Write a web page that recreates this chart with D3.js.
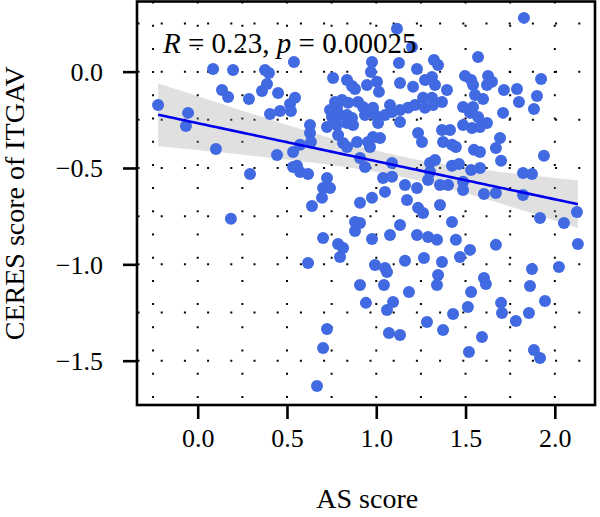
<!DOCTYPE html>
<html>
<head>
<meta charset="utf-8">
<script src="https://cdn.jsdelivr.net/npm/d3@7"></script>
<style>
body { margin: 0; background: #fff; }
svg { display: block; font-family: "Liberation Serif", "DejaVu Serif", serif; }
</style>
</head>
<body>
<svg id="chart" width="600" height="517"></svg>
<script>

// values
var asScore = [0.086,0.198,0.377,0.399,0.388,0.360,0.136,0.170,0.287,0.450,-0.222,-0.054,-0.066,0.405,0.461,0.539,0.102,0.444,0.293,0.186,
  1.116,1.200,0.976,0.970,1.127,1.228,1.323,1.346,0.758,0.836,0.864,0.881,0.948,1.004,1.015,1.133,1.206,1.273,1.312,1.329,1.396,
  0.545,0.517,0.522,0.769,0.808,0.842,0.741,0.780,0.898,0.926,0.982,0.937,0.993,1.077,1.088,1.049,1.133,1.178,1.217,1.262,1.312,1.368,1.318,1.273,
  0.752,0.797,0.836,0.864,0.724,0.780,0.836,0.870,0.629,0.629,0.634,0.786,0.814,0.836,0.892,0.954,0.982,1.021,0.965,1.010,1.133,1.234,1.256,1.368,1.413,1.374,1.424,0.534,0.573,
  0.909,0.937,1.088,1.301,1.329,1.301,1.290,1.357,0.534,0.556,0.573,0.618,0.724,0.702,0.741,0.696,0.640,1.038,1.088,0.976,0.909,1.049,1.161,1.228,1.172,1.234,1.262,1.357,
  1.133,0.881,0.909,0.881,1.077,0.976,0.702,0.786,0.814,0.797,1.228,1.290,1.340,0.618,0.993,1.049,1.161,1.267,1.368,
  1.060,0.909,1.043,1.183,1.346,1.340,0.942,1.094,1.060,0.724,0.702,1.071,1.133,1.284,1.374,0.668,
  1.827,1.570,1.497,1.531,1.542,1.626,1.648,1.620,1.923,1.715,1.788,1.900,1.553,1.598,1.799,1.486,1.542,1.525,1.570,1.620,1.581,1.710,1.883,1.486,1.536,1.693,
  1.446,1.547,1.581,1.670,1.939,1.699,1.424,1.463,1.531,1.581,1.822,1.872,1.402,1.486,1.486,1.603,1.670,1.822,1.917,2.124,2.051,1.424,1.446,1.525,1.670,2.129,1.469,1.872,2.023,
  1.603,1.614,1.531,1.861,1.945,1.699,1.704,1.782,1.855,1.513,1.430,1.592,1.519,1.883,1.917];

var ceresScore = [0.014,0.009,0.009,-0.007,-0.064,-0.100,-0.095,-0.131,-0.142,-0.111,-0.173,-0.214,-0.282,-0.220,-0.204,0.050,-0.401,-0.432,-0.531,-0.764,
  0.222,0.128,0.050,-0.002,0.045,0.014,0.061,0.035,-0.033,-0.043,-0.074,-0.090,-0.069,-0.053,-0.105,-0.059,-0.079,-0.043,-0.028,-0.069,-0.095,
  -0.136,-0.168,-0.204,-0.157,-0.147,-0.162,-0.199,-0.188,-0.157,-0.183,-0.188,-0.225,-0.225,-0.173,-0.209,-0.225,-0.199,-0.188,-0.173,-0.136,-0.136,-0.157,-0.173,-0.188,
  -0.235,-0.225,-0.225,-0.240,-0.287,-0.277,-0.266,-0.277,-0.277,-0.318,-0.365,-0.329,-0.370,-0.391,-0.365,-0.365,-0.339,-0.344,-0.391,-0.266,-0.261,-0.318,-0.365,-0.303,-0.303,-0.365,-0.380,-0.417,-0.380,
  -0.448,-0.495,-0.474,-0.474,-0.458,-0.521,-0.562,-0.588,-0.495,-0.489,-0.521,-0.531,-0.552,-0.604,-0.604,-0.655,-0.697,-0.552,-0.546,-0.655,-0.681,-0.624,-0.588,-0.604,-0.666,-0.707,-0.733,-0.692,
  -0.796,-0.780,-0.785,-0.827,-0.848,-0.868,-0.863,-0.894,-0.915,-0.962,-0.848,-0.858,-0.873,-0.993,-1.003,-1.019,-0.982,-0.967,-0.988,
  -1.040,-1.107,-1.107,-1.143,-1.055,-1.107,-1.200,-1.195,-1.237,-1.335,-1.434,-1.356,-1.367,-1.299,-1.341,-1.631,
  0.279,0.076,-0.022,-0.043,-0.069,-0.022,-0.053,-0.069,-0.038,-0.095,-0.090,-0.126,-0.121,-0.142,-0.157,-0.183,-0.183,-0.214,-0.235,-0.266,-0.287,-0.214,-0.194,-0.277,-0.292,-0.344,
  -0.391,-0.406,-0.417,-0.396,-0.437,-0.463,-0.489,-0.479,-0.510,-0.500,-0.526,-0.531,-0.588,-0.572,-0.614,-0.635,-0.630,-0.640,-0.759,-0.728,-0.785,-0.780,-0.873,-0.925,-0.899,-0.894,-0.962,-1.024,-1.014,
  -1.071,-1.102,-1.143,-1.112,-1.190,-1.200,-1.252,-1.294,-1.252,-1.221,-1.258,-1.377,-1.455,-1.444,-1.486];

var xTicks = [0, 0.5, 1, 1.5, 2];
var yTicks = [0, -0.5, -1, -1.5];
var xGrid = [-0.25, 0, 0.25, 0.5, 0.75, 1, 1.25, 1.5, 1.75, 2];
var yGrid = [-1.5, -1.25, -1, -0.75, -0.5, -0.25, 0, 0.25];
var rText = "0.23";
var pText = "0.00025";

var svg = d3.select("#chart");
var margin = {top: 1.5, right: 5, bottom: 112, left: 137};
var W = 600 - margin.left - margin.right;
var H = 517 - margin.top - margin.bottom;

var x = d3.scaleLinear().domain([-0.34, 2.225]).range([0, W]);
var y = d3.scaleLinear().domain([-1.73, 0.364]).range([H, 0]);

var g = svg.append("g").attr("transform", "translate(" + margin.left + "," + margin.top + ")");

// dotted grid
g.selectAll(".vgrid").data(xGrid).enter().append("line")
  .attr("x1", d => x(d)).attr("x2", d => x(d))
  .attr("y1", 0).attr("y2", H)
  .attr("stroke", "#000").attr("stroke-width", 2)
  .attr("stroke-dasharray", "2,21.2");
g.selectAll(".hgrid").data(yGrid).enter().append("line")
  .attr("y1", d => y(d)).attr("y2", d => y(d))
  .attr("x1", 0.5).attr("x2", W)
  .attr("stroke", "#000").attr("stroke-width", 2)
  .attr("stroke-dasharray", "2,21.2");

// linear fit + 95% band
var pts = asScore.map((v, i) => [v, ceresScore[i]]);
var n = pts.length;
var mx = d3.mean(pts, d => d[0]), my = d3.mean(pts, d => d[1]);
var sxx = d3.sum(pts, d => (d[0] - mx) * (d[0] - mx));
var sxy = d3.sum(pts, d => (d[0] - mx) * (d[1] - my));
var b = sxy / sxx, a = my - b * mx;
var sse = d3.sum(pts, d => Math.pow(d[1] - (a + b * d[0]), 2));
var s = Math.sqrt(sse / (n - 2));
var xmin = d3.min(asScore), xmax = d3.max(asScore);
var fit = d3.range(0, 81).map(function(k) {
  var xv = xmin + (xmax - xmin) * k / 80;
  var se = s * Math.sqrt(1 / n + (xv - mx) * (xv - mx) / sxx);
  return {x: xv, y: a + b * xv, lo: a + b * xv - 1.97 * se, hi: a + b * xv + 1.97 * se};
});

g.append("path").datum(fit)
  .attr("fill", "#999").attr("fill-opacity", 0.3)
  .attr("d", d3.area().x(d => x(d.x)).y0(d => y(d.lo)).y1(d => y(d.hi)));

g.selectAll(".pt").data(pts).enter().append("circle")
  .attr("cx", d => x(d[0])).attr("cy", d => y(d[1]))
  .attr("r", 6).attr("fill", "#4169e1");

g.append("path").datum(fit)
  .attr("fill", "none").attr("stroke", "#0000ee").attr("stroke-width", 2.6)
  .attr("d", d3.line().x(d => x(d.x)).y(d => y(d.y)));

// frame
g.append("rect").attr("x", 0).attr("y", 0).attr("width", W).attr("height", H)
  .attr("fill", "none").attr("stroke", "#000").attr("stroke-width", 2.6);

// axes
var xAxis = g.append("g").attr("transform", "translate(0," + H + ")")
  .call(d3.axisBottom(x).tickValues(xTicks).tickFormat(d3.format(".1f")).tickSizeInner(14).tickSizeOuter(0).tickPadding(10));
var yAxis = g.append("g")
  .call(d3.axisLeft(y).tickValues(yTicks).tickFormat(d => d3.format(".1f")(d).replace("-", "\u2212")).tickSizeInner(14).tickSizeOuter(0).tickPadding(20));
[xAxis, yAxis].forEach(function(ax) {
  ax.select(".domain").remove();
  ax.selectAll("line").attr("stroke-width", 2.6);
  ax.selectAll("text").attr("font-size", 26).attr("font-family", "Liberation Serif").attr("fill", "#000");
});
yAxis.selectAll("text").attr("dy", "0.34em");

// titles
svg.append("text").attr("x", margin.left + x(1.0) - 9).attr("y", 508)
  .attr("text-anchor", "middle").attr("font-size", 28).text("AS score");
svg.append("text").attr("transform", "translate(24," + (margin.top + H / 2) + ") rotate(-90)")
  .attr("text-anchor", "middle").attr("font-size", 28).text("CERES score of ITGAV");

var ann = svg.append("text").attr("x", 163).attr("y", 53).attr("font-size", 29);
ann.append("tspan").attr("font-style", "italic").text("R");
ann.append("tspan").text(" = " + rText + ", ");
ann.append("tspan").attr("font-style", "italic").text("p");
ann.append("tspan").text(" = " + pText);

</script>
</body>
</html>
